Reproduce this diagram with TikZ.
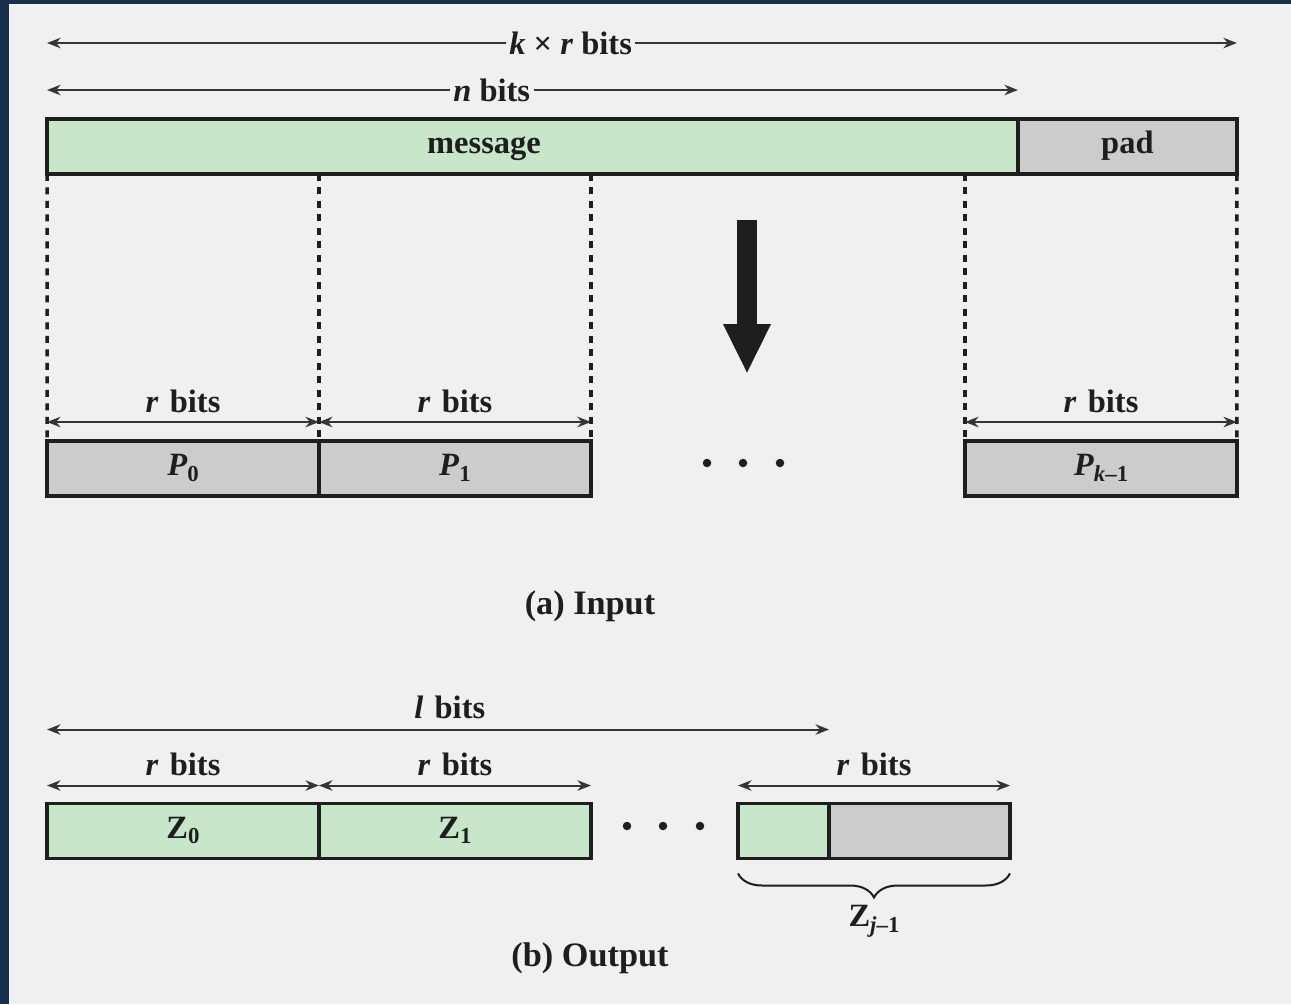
\documentclass[tikz,border=0pt]{standalone}
\usepackage{fontspec}
\setmainfont{Liberation Serif}
\usetikzlibrary{positioning, arrows.meta, decorations.pathreplacing}

\definecolor{paper}{RGB}{240,239,242}
\definecolor{frame}{RGB}{24,48,78}
\definecolor{msggreen}{RGB}{200,230,201}
\definecolor{padgrey}{RGB}{204,204,204}
\definecolor{ink}{RGB}{30,30,30}

\newcommand{\lowsub}[1]{\raisebox{-0.4ex}{\fontsize{13}{14}\selectfont #1}}

\begin{document}
\begin{tikzpicture}[
    x=0.02cm, y=-0.02cm,
    node distance=0cm,
    every node/.style={text=ink, font=\fontsize{18.5}{22}\selectfont\bfseries},
    cell/.style={draw=ink, line width=0.07cm, minimum height=1.1cm, inner sep=0pt, outer sep=0pt,
                 text height=0.38cm, text depth=0.1cm},
    msgbox/.style={cell, fill=msggreen},
    padbox/.style={cell, fill=padgrey},
    dim/.style={{Stealth[length=0.27cm,width=0.21cm]}-{Stealth[length=0.27cm,width=0.21cm]}, line width=0.04cm, draw=ink!90},
    guide/.style={draw=ink, line width=0.07cm, dash pattern=on 0.14cm off 0.13cm},
    bigarrow/.style={draw=ink, line width=0.4cm, -{Triangle[length=1.0cm,width=0.88cm]}},
    brace/.style={draw=ink, line width=0.04cm, decorate, decoration={brace, mirror, amplitude=0.48cm}},
    caption/.style={font=\fontsize{19.5}{22}\selectfont\bfseries}]

  % Paper and frame
  \useasboundingbox (0,0) rectangle (1291,1004);
  \fill[frame] (0,0) rectangle (1291,1004);
  \fill[paper] (9,4) rectangle (1291,1004);

  % Place input row
  \node (msg) [msgbox, minimum width=19.42cm] at (532.5,146.5) {};
  \node (msglabel) [cell, draw=none, xshift=-0.97cm] at (msg.center) {message};
  \node (pad) [padbox, minimum width=4.38cm, right=of msg] {pad};

  % Place blocks P_i
  \node (p0) [padbox, minimum width=5.44cm] at (183,468.5) {\textit{P}\lowsub{0}};
  \node (p1) [padbox, minimum width=5.44cm, right=of p0] {\textit{P}\lowsub{1}};
  \node (pk) [padbox, minimum width=5.44cm] at (1101,468.5) {\textit{P}\lowsub{\textit{k}–1}};
  \foreach \x in {707,743,780}
    \fill[ink] (\x,463) circle (0.085cm);

  % Lengths above the input
  \draw[dim] ([yshift=1.52cm]msg.north west) -- ([yshift=1.52cm]pad.north east)
    node (krbits) [pos=0.44, fill=paper, inner sep=2pt] {\textit{k} × \textit{r} bits};
  \draw[dim] ([yshift=0.58cm]msg.north west) -- ([yshift=0.58cm]msg.north east)
    node (nbits) [pos=0.458, fill=paper, inner sep=2pt] {\textit{n} bits};

  % Dotted guides from message to blocks
  \draw[guide] (msg.south west) -- (p0.north west);
  \draw[guide] (p0.north east |- msg.south) -- (p0.north east);
  \draw[guide] (p1.north east |- msg.south) -- (p1.north east);
  \draw[guide] (pk.north west |- msg.south) -- (pk.north west);
  \draw[guide] (pad.south east) -- (pk.north east);

  % r bits over each block
  \foreach \b in {p0,p1,pk}
    \draw[dim] ([yshift=0.38cm]\b.north west) -- ([yshift=0.38cm]\b.north east)
      node (\b bits) [midway, above=0.17cm, inner sep=0pt] {\textit{r}\hspace{0.35em}bits};

  % Big arrow
  \coordinate (down top) at (747,220);
  \coordinate (down tip) at (747,374);
  \draw[bigarrow] (down top) -- (down tip);

  \node (input) [caption] at (590,606) {(a) Input};

  % Place output row
  \node (z0) [msgbox, minimum width=5.44cm] at (183,831) {Z\lowsub{0}};
  \node (z1) [msgbox, minimum width=5.44cm, right=of z0] {Z\lowsub{1}};
  \node (zg) [msgbox, minimum width=1.82cm] at (783.5,831) {};
  \node (zr) [padbox, minimum width=3.62cm, right=of zg] {};
  \foreach \x in {627,663,700}
    \fill[ink] (\x,826) circle (0.085cm);

  % Lengths above the output
  \draw[dim] ([yshift=1.48cm]z0.north west) -- ([yshift=1.48cm]zg.north east)
    node (lbits) [pos=0.515, above=0.2cm, inner sep=0pt] {\textit{l}\hspace{0.35em}bits};
  \foreach \b in {z0,z1}
    \draw[dim] ([yshift=0.36cm]\b.north west) -- ([yshift=0.36cm]\b.north east)
      node (\b bits) [midway, above=0.18cm, inner sep=0pt] {\textit{r}\hspace{0.35em}bits};
  \draw[dim] ([yshift=0.36cm]zg.north west) -- ([yshift=0.36cm]zr.north east)
    node (zbits) [midway, above=0.18cm, inner sep=0pt] {\textit{r}\hspace{0.35em}bits};

  % Brace under the last block
  \draw[brace] ([yshift=-0.3cm]zg.south west) -- ([yshift=-0.3cm]zr.south east)
    node (zlast) [midway, below=0.62cm, inner sep=0pt] {Z\lowsub{\textit{j}–1}};

  \node (output) [caption] at (590,958) {(b) Output};
\end{tikzpicture}
\end{document}
